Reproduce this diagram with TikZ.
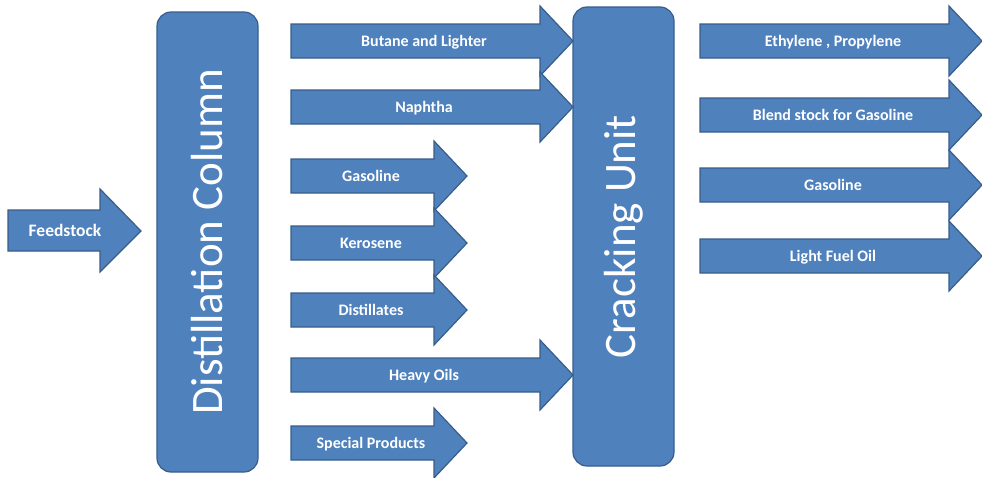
\documentclass[tikz,border=0pt]{standalone}
\usepackage{fontspec}
\setmainfont{Carlito}
\usetikzlibrary{positioning}
\definecolor{flowblue}{HTML}{4F81BD}
\definecolor{flowedge}{HTML}{385D8A}

\begin{document}
\begin{tikzpicture}[x=1pt, y=-1pt,
    unit/.style={draw=flowedge, fill=flowblue, line width=1.2pt, rounded corners=14pt,
        minimum height=101pt, rotate=90, text=white, inner sep=0pt,
        font=\fontsize{45}{45}\selectfont},
    flow/.style={draw=flowedge, fill=flowblue, line width=1.2pt},
    lbl/.style={text=white, inner sep=0pt, text height=0.64em, text depth=0pt, yshift=-2.5pt,
        font=\bfseries\fontsize{16}{16}\selectfont}
]
    \useasboundingbox (0,0) rectangle (982,477);

    % the two units
    \node[unit, minimum width=460pt] (dist) at (207.5,242) {Distillation Column};
    \node[unit, minimum width=459pt] (crack) at (623.5,236.5) {Cracking Unit};

    % feed arrow
    \draw[flow] (8,210) -- (100,210) -- (100,189) -- (141,231) -- (100,272) -- (100,251) -- (8,251) -- cycle;
    \node[lbl, font=\bfseries\fontsize{17.5}{17.5}\selectfont] (feed) at (65,231) {Feedstock};

    % product arrows: left end / tip / centre line / name / text
    \foreach \xl/\xt/\yc/\nm/\txt in {
        291/573/41/butane/{Butane and Lighter},
        291/573/107/naphtha/{Naphtha},
        291/467/176/gasoline/{Gasoline},
        291/467/243/kerosene/{Kerosene},
        291/467/310/distill/{Distillates},
        291/573/375/heavy/{Heavy Oils},
        291/467/443/special/{Special Products},
        700/982/41/ethylene/{Ethylene , Propylene},
        700/982/115/blend/{Blend stock for Gasoline},
        700/982/185/gascrack/{Gasoline},
        700/982/256/fueloil/{Light Fuel Oil}}
    {
        \draw[flow] (\xl,\yc-17) -- (\xt-33,\yc-17) -- (\xt-33,\yc-35) -- (\xt,\yc)
            -- (\xt-33,\yc+35) -- (\xt-33,\yc+17) -- (\xl,\yc+17) -- cycle;
        \node[lbl] (\nm) at ({(\xl+\xt-16)/2},\yc) {\txt};
    }
\end{tikzpicture}
\end{document}
